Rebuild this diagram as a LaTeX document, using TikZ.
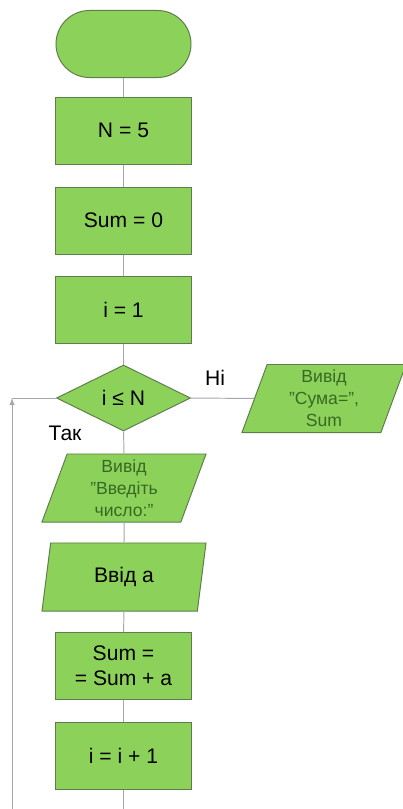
\documentclass[tikz,border=0pt]{standalone}
\usepackage{fontspec}
\setmainfont{Liberation Sans}
\usetikzlibrary{shapes.geometric,shapes.misc}
\definecolor{boxfill}{RGB}{140,210,90}
\definecolor{boxline}{RGB}{95,125,75}
\definecolor{flowline}{RGB}{165,165,180}
\definecolor{msgtext}{RGB}{55,105,35}
\tikzset{
  block/.style={rectangle, draw=boxline, fill=boxfill, line width=0.7pt,
    minimum width=3.375cm, minimum height=1.675cm, inner sep=0pt, align=center,
    font=\fontsize{15}{18}\selectfont},
  terminal/.style={block, rounded rectangle},
  cond/.style={diamond, draw=boxline, fill=boxfill, line width=0.7pt,
    minimum width=3.35cm, minimum height=1.65cm, inner sep=0pt,
    font=\fontsize{15}{18}\selectfont},
  io/.style={trapezium, trapezium left angle=66, trapezium right angle=114,
    trapezium stretches body, draw=boxline, fill=boxfill, line width=0.7pt,
    minimum width=4.1cm, minimum height=1.7cm, inner sep=0pt, align=center,
    font=\fontsize{15}{18}\selectfont},
  msg/.style={io, text=msgtext, font=\fontsize{12.5}{15.5}\selectfont},
  flow/.style={draw=flowline, line width=0.7pt},
  lbl/.style={font=\fontsize{15}{18}\selectfont}
}

\begin{document}
\begin{tikzpicture}[x=0.025cm, y=-0.025cm, >=latex]
        \useasboundingbox (0,0) rectangle (402,809);
        % Blocks of the main column
        \node[terminal] (start) at (123.5,44) {};
        \node[block] (setn) at (123.5,130.5) {N = 5};
        \node[block] (setsum) at (123.5,220.5) {Sum = 0};
        \node[block] (seti) at (123.5,309.5) {i = 1};
        \node[cond] (test) at (123.5,398) {i ≤ N};
        \node[msg] (outsum) at (324,398.5) {Вивід\\"Сума=",\\Sum};
        \node[msg] (prompt) at (124,488) {Вивід\\"Введіть\\число:"};
        \node[io] (inpa) at (124,577) {Ввід а};
        \node[block] (addsum) at (123.5,666) {Sum =\\= Sum + a};
        \node[block] (inci) at (123.5,755.5) {i = i + 1};
        % Free ends at the lower edge
        \coordinate (bot) at (123.5,809);
        \coordinate (loopbot) at (12,809);
        \coordinate (looptop) at (12,398);
        % Connectors
        \draw[flow] (start) -- (setn);
        \draw[flow] (setn) -- (setsum);
        \draw[flow] (setsum) -- (seti);
        \draw[flow] (seti) -- (test);
        \draw[flow] (test) -- (outsum);
        \draw[flow] (test) -- (prompt);
        \draw[flow] (prompt) -- (inpa);
        \draw[flow] (inpa) -- (addsum);
        \draw[flow] (addsum) -- (inci);
        \draw[flow] (inci) -- (bot);
        % Back to the condition
        \draw[flow, ->] (loopbot) -- (looptop);
        \draw[flow] (looptop) -- (test);
        % Branch labels
        \node[lbl] (no) at (215,378) {Ні};
        \node[lbl] (yes) at (65,433) {Так};
\end{tikzpicture}
\end{document}
